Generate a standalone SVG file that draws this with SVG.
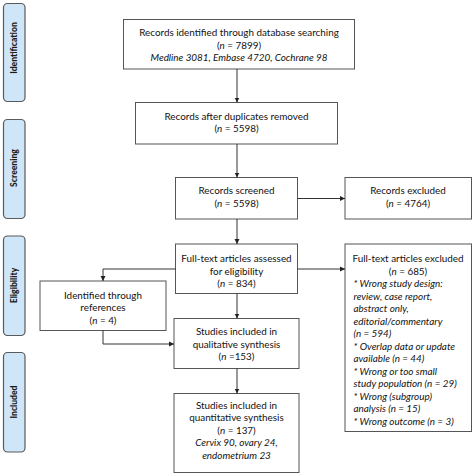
<svg xmlns="http://www.w3.org/2000/svg" width="474" height="476" viewBox="0 0 474 476">
<style>
.tab{fill:#cfe6f8;stroke:#5a5a5a;stroke-width:1.2}
.tabt{font-family:"Lato","Liberation Sans",sans-serif;font-weight:900;font-size:8.6px;fill:#1a1a1a;text-anchor:middle}
.box{fill:#fff;stroke:#555;stroke-width:1}
.t{font-family:"Lato","Liberation Sans",sans-serif;font-size:9.9px;fill:#111;text-anchor:middle}
.l{text-anchor:start}
.i{font-style:italic}
.c{fill:none;stroke:#333;stroke-width:1}
</style>
<defs>
<marker id="ah" markerWidth="6" markerHeight="6" refX="5" refY="3" orient="auto" markerUnits="userSpaceOnUse">
<path d="M0,0.5 L5,3 L0,5.5 Z" fill="#222"/>
</marker>
</defs>
<rect width="474" height="476" fill="#fff"/>
<g id="tab-identification"><rect class="tab" x="3.5" y="3.5" width="21.5" height="98" rx="4"/><text class="tabt" transform="translate(17.3,48) rotate(-90)">Identification</text></g>
<g id="tab-screening"><rect class="tab" x="3.5" y="119.5" width="21.5" height="99" rx="4"/><text class="tabt" transform="translate(17.3,168) rotate(-90)">Screening</text></g>
<g id="tab-eligibility"><rect class="tab" x="3.5" y="236" width="21.5" height="99.5" rx="4"/><text class="tabt" transform="translate(17.3,285.5) rotate(-90)">Eligibility</text></g>
<g id="tab-included"><rect class="tab" x="3.5" y="352.5" width="21.5" height="99.5" rx="4"/><text class="tabt" transform="translate(17.3,402) rotate(-90)">Included</text></g>

<g id="n-identified"><rect class="box" x="123.5" y="19.5" width="231" height="49.5"/>
<text class="t" x="239" y="36">Records identified through database searching</text>
<text class="t" x="239" y="48.5">(<tspan class="i">n</tspan> = 7899)</text>
<text class="t i" x="239" y="61">Medline 3081, Embase 4720, Cochrane 98</text></g>

<g id="n-dedup"><rect class="box" x="135.5" y="102.5" width="202" height="41.5"/>
<text class="t" x="236.5" y="119.5">Records after duplicates removed</text>
<text class="t" x="236.5" y="132">(<tspan class="i">n</tspan> = 5598)</text></g>

<g id="n-screened"><rect class="box" x="175.5" y="177.5" width="122" height="41.5"/>
<text class="t" x="236.5" y="194">Records screened</text>
<text class="t" x="236.5" y="206.5">(<tspan class="i">n</tspan> = 5598)</text></g>

<g id="n-excluded"><rect class="box" x="345" y="177.5" width="126.5" height="41.5"/>
<text class="t" x="408" y="194">Records excluded</text>
<text class="t" x="408" y="206.5">(<tspan class="i">n</tspan> = 4764)</text></g>

<g id="n-fulltext"><rect class="box" x="175.5" y="244" width="122" height="49.5"/>
<text class="t" x="236.5" y="262">Full-text articles assessed</text>
<text class="t" x="236.5" y="274.5">for eligibility</text>
<text class="t" x="236.5" y="287">(<tspan class="i">n</tspan> = 834)</text></g>

<g id="n-ftexcluded"><rect class="box" x="345" y="244" width="126.5" height="187.5"/>
<text class="t" x="408" y="262">Full-text articles excluded</text>
<text class="t" x="408" y="274.5">(<tspan class="i">n</tspan> = 685)</text>
<text class="t l i" x="353.5" y="287">* Wrong study design:</text>
<text class="t l i" x="353.5" y="299.5">review, case report,</text>
<text class="t l i" x="353.5" y="312">abstract only,</text>
<text class="t l i" x="353.5" y="324.5">editorial/commentary</text>
<text class="t l i" x="353.5" y="337">(n = 594)</text>
<text class="t l i" x="353.5" y="349.5">* Overlap data or update</text>
<text class="t l i" x="353.5" y="362">available (n = 44)</text>
<text class="t l i" x="353.5" y="374.5">* Wrong or too small</text>
<text class="t l i" x="353.5" y="387">study population (n = 29)</text>
<text class="t l i" x="353.5" y="399.5">* Wrong (subgroup)</text>
<text class="t l i" x="353.5" y="412">analysis (n = 15)</text>
<text class="t l i" x="353.5" y="424.5">* Wrong outcome (n = 3)</text></g>

<g id="n-references"><rect class="box" x="40" y="281" width="126" height="49.5"/>
<text class="t" x="103" y="298.5">Identified through</text>
<text class="t" x="103" y="311">references</text>
<text class="t" x="103" y="323.5">(<tspan class="i">n</tspan> = 4)</text></g>

<g id="n-qualitative"><rect class="box" x="174" y="318.5" width="125" height="50"/>
<text class="t" x="236.5" y="335">Studies included in</text>
<text class="t" x="236.5" y="347.5">qualitative synthesis</text>
<text class="t" x="236.5" y="360">(<tspan class="i">n</tspan> =153)</text></g>

<g id="n-quantitative"><rect class="box" x="174" y="393.5" width="125" height="79"/>
<text class="t" x="236.5" y="408.5">Studies included in</text>
<text class="t" x="236.5" y="421">quantitative synthesis</text>
<text class="t" x="236.5" y="433.5">(<tspan class="i">n</tspan> = 137)</text>
<text class="t i" x="236.5" y="446">Cervix 90, ovary 24,</text>
<text class="t i" x="236.5" y="458.5">endometrium 23</text></g>

<g id="connectors">
<path class="c" d="M237,69 V102.5" marker-end="url(#ah)"/>
<path class="c" d="M237,144 V177.5" marker-end="url(#ah)"/>
<path class="c" d="M297.5,198.5 H345" marker-end="url(#ah)"/>
<path class="c" d="M237,219 V244" marker-end="url(#ah)"/>
<path class="c" d="M297.5,269 H345" marker-end="url(#ah)"/>
<path class="c" d="M175.5,269 H103 V281" marker-end="url(#ah)"/>
<path class="c" d="M237,293.5 V318.5" marker-end="url(#ah)"/>
<path class="c" d="M103,330.5 V344 H174" marker-end="url(#ah)"/>
<path class="c" d="M237,368.5 V393.5" marker-end="url(#ah)"/>
</g>
</svg>
